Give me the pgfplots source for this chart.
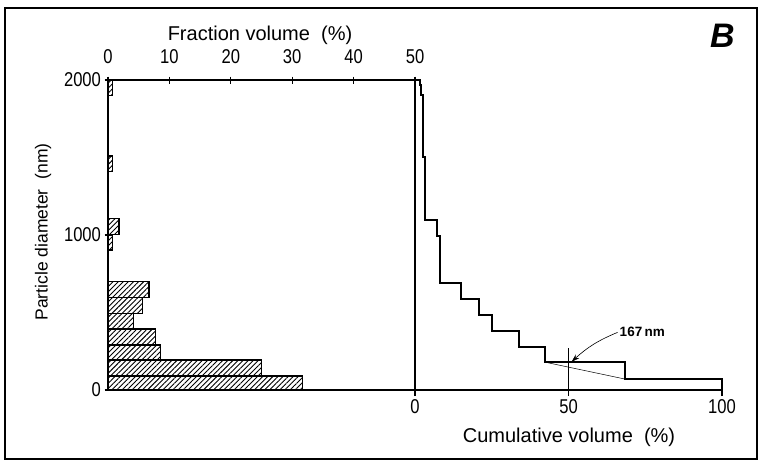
\documentclass[border=0pt]{standalone}
\usepackage{pgfplots}
\pgfplotsset{compat=1.18}
\usepackage{fontspec}
\setmainfont{Liberation Sans}
\usetikzlibrary{patterns.meta,arrows.meta}
\begin{document}
\begin{tikzpicture}
\useasboundingbox (0pt,0pt) rectangle (760pt,461pt);
\draw[line width=2.2pt] (5pt,2pt) rectangle (757pt,453pt);

\pgfplotsset{
  barstyle/.style={draw=black, line width=1.3pt, pattern={Lines[angle=45,distance=3.6pt,line width=0.9pt]}},
}

\begin{axis}[at={(108pt,71pt)}, anchor=south west, scale only axis,
  width=307pt, height=310pt,
  xmin=0, xmax=50, ymin=0, ymax=2000,
  xtick={0,10,20,30,40,50}, ytick={0,1000,2000},
  xtick pos=upper, xticklabel pos=upper, ytick pos=left,
  tick align=center, major tick length=7pt,
  axis line style={line width=2pt},
  every tick/.style={line width=1.2pt, black},
  /pgf/number format/assume math mode=true,
  /pgf/number format/set thousands separator={},
  tick label style={font=\fontsize{20}{20}\selectfont},
  xticklabel style={yshift=9pt},
  xticklabel={\scalebox{0.83}[1]{\pgfmathprintnumber{\tick}}},
  yticklabel={\scalebox{0.83}[1]{\pgfmathprintnumber{\tick}}},
  clip=false]
\addplot[barstyle] coordinates {(0,0) (31.7,0) (31.7,90) (0,90)} -- cycle;
\addplot[barstyle] coordinates {(0,90) (25.0,90) (25.0,194) (0,194)} -- cycle;
\addplot[barstyle] coordinates {(0,194) (8.6,194) (8.6,290) (0,290)} -- cycle;
\addplot[barstyle] coordinates {(0,290) (7.7,290) (7.7,394) (0,394)} -- cycle;
\addplot[barstyle] coordinates {(0,394) (4.1,394) (4.1,495) (0,495)} -- cycle;
\addplot[barstyle] coordinates {(0,495) (5.6,495) (5.6,598) (0,598)} -- cycle;
\addplot[barstyle] coordinates {(0,598) (6.7,598) (6.7,700) (0,700)} -- cycle;
\addplot[barstyle] coordinates {(0,903) (0.7,903) (0.7,1005) (0,1005)} -- cycle;
\addplot[barstyle] coordinates {(0,1005) (1.8,1005) (1.8,1107) (0,1107)} -- cycle;
\addplot[barstyle] coordinates {(0,1410) (0.75,1410) (0.75,1510) (0,1510)} -- cycle;
\addplot[barstyle] coordinates {(0,1900) (0.75,1900) (0.75,2000) (0,2000)} -- cycle;
\draw[line width=2pt] (axis cs:50,0) -- (axis cs:50,2000);
\end{axis}

\begin{axis}[at={(415pt,71pt)}, anchor=south west, scale only axis,
  width=307pt, height=310pt,
  xmin=0, xmax=100, ymin=0, ymax=2000,
  axis x line*=bottom, axis y line*=left,
  ytick=\empty, xtick={0,50,100},
  tick align=outside, major tick length=6pt,
  axis line style={line width=2pt, -},
  every tick/.style={line width=1.2pt, black},
  /pgf/number format/assume math mode=true,
  tick label style={font=\fontsize{20}{20}\selectfont},
  xticklabel={\scalebox{0.83}[1]{\pgfmathprintnumber{\tick}}},
  clip=false]
\addplot[line width=2pt, black] coordinates {
 (0,2000) (1.5,2000) (1.5,1968) (2.0,1968) (2.0,1903) (2.5,1903) (2.5,1505)
 (3.4,1505) (3.4,1097) (7.1,1097) (7.1,994) (8.1,994) (8.1,692) (15.0,692)
 (15.0,585) (21.0,585) (21.0,484) (25.1,484) (25.1,383) (34.0,383) (34.0,279)
 (42.5,279) (42.5,179) (68.3,179) (68.3,71) (100,71) (100,0)};
\addplot[line width=0.5pt, black] coordinates {(42.5,179) (68.3,71)};
\addplot[line width=0.8pt, black] coordinates {(50,0) (50,270)};
\draw[-{Stealth[length=8pt,width=5pt]}, line width=0.6pt] (axis cs:66,372) to[bend right=10] (axis cs:51,182);
\node[anchor=west, font=\bfseries\fontsize{13.5}{13.5}\selectfont, inner sep=1pt] at (axis cs:66.3,376) {167\,nm};
\end{axis}

\node[font=\fontsize{20}{20}\selectfont] at (260pt,426pt) {Fraction volume\ \ (\%)};
\node[font=\fontsize{20}{20}\selectfont] at (569pt,24pt) {Cumulative volume\ \ (\%)};
\node[font=\fontsize{17.5}{17.5}\selectfont, rotate=90] at (43pt,229pt) {Particle diameter\ \ (nm)};
\node[font=\bfseries\itshape\fontsize{34}{34}\selectfont] at (722.5pt,425.5pt) {B};
\end{tikzpicture}
\end{document}
